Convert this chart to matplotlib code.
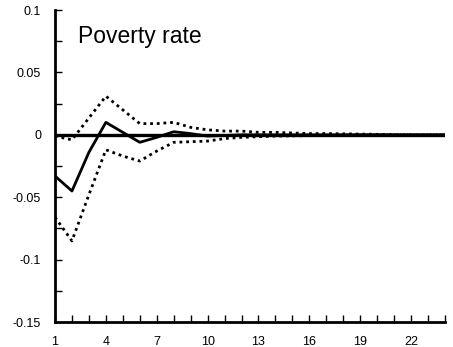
import numpy as np
import matplotlib.pyplot as plt
from matplotlib.ticker import MultipleLocator

plt.rcParams['font.family'] = ['Liberation Sans', 'DejaVu Sans']

# respuesta al impulso
periodos = np.arange(1, 25)
respuesta = [-0.033, -0.045, -0.014, 0.010, 0.002, -0.006, -0.002, 0.0025,
             0.001, -0.001, -0.0005, 0.0, 0.0, 0.0, 0.0, 0.0, 0.0, 0.0,
             0.0, 0.0, 0.0, 0.0, 0.0, 0.0]
banda_sup = [-0.001, -0.004, 0.0135, 0.031, 0.020, 0.009, 0.009, 0.010,
             0.006, 0.004, 0.003, 0.003, 0.002, 0.002, 0.0015, 0.001, 0.001,
             0.0008, 0.0006, 0.0004, 0.0002, 0.0001, 0.0, 0.0]
banda_inf = [-0.066, -0.085, -0.048, -0.012, -0.017, -0.021, -0.013, -0.006,
             -0.0055, -0.005, -0.003, -0.002, -0.0015, -0.001, -0.0008,
             -0.0006, -0.0004, -0.0002, -0.0001, 0.0, 0.0, 0.0, 0.0, 0.0]
etiquetas_y = ['-0.15', '-0.1', '-0.05', '0', '0.05', '0.1']
titulo = 'Poverty rate'

fig = plt.figure(figsize=(4.53, 3.47), dpi=100)
ax = fig.add_axes([0.1214, 0.072, 0.861, 0.899])

ax.axhline(0, color='black', lw=2.4, zorder=1)
ax.plot(periodos, banda_sup, color='black', lw=2, linestyle=(0, (1, 1.4)))
ax.plot(periodos, banda_inf, color='black', lw=2, linestyle=(0, (1, 1.4)))
ax.plot(periodos, respuesta, color='black', lw=2)

ax.set_xlim(1, 24)
ax.set_ylim(-0.15, 0.1)
ax.set_xticks(np.arange(1, 25, 3))
ax.xaxis.set_minor_locator(MultipleLocator(1))
ax.set_yticks([-0.15, -0.1, -0.05, 0, 0.05, 0.1])
ax.set_yticklabels(etiquetas_y)
ax.yaxis.set_minor_locator(MultipleLocator(0.025))

for s in ['top', 'right']:
    ax.spines[s].set_visible(False)
for s in ['left', 'bottom']:
    ax.spines[s].set_linewidth(2)

ax.tick_params(axis='both', which='both', direction='in', width=1, labelsize=9)
ax.tick_params(axis='both', which='major', length=5)
ax.tick_params(axis='both', which='minor', length=5)
ax.tick_params(axis='x', which='major', pad=10)
ax.tick_params(axis='y', which='major', pad=10)

ax.text(0.058, 0.915, titulo, transform=ax.transAxes, fontsize=16.5, va='center', ha='left')

plt.savefig('out.png', dpi=100)
